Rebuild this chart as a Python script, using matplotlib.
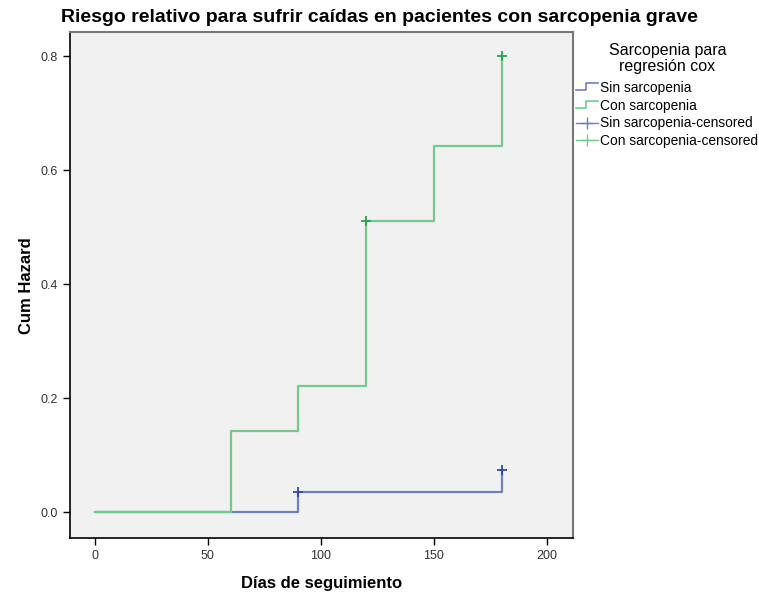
import matplotlib
matplotlib.use("Agg")
import matplotlib.pyplot as plt
from matplotlib.lines import Line2D
from matplotlib.legend_handler import HandlerBase

plt.rcParams["font.family"] = ["Liberation Sans", "DejaVu Sans"]

# cumulative hazard steps
sin_t = [0, 90, 180]
sin_h = [0.0, 0.035, 0.073]
con_t = [0, 60, 90, 120, 150, 180]
con_h = [0.0, 0.143, 0.222, 0.510, 0.643, 0.800]

# censored points
sin_cens_t = [90, 180]
sin_cens_h = [0.035, 0.073]
con_cens_t = [120, 180]
con_cens_h = [0.510, 0.800]

labels = ["Sin sarcopenia", "Con sarcopenia",
          "Sin sarcopenia-censored", "Con sarcopenia-censored"]
xticks = [0, 50, 100, 150, 200]
yticks = [0.0, 0.2, 0.4, 0.6, 0.8]

blue_line = "#6f80c0"
green_line = "#74c98e"
blue_mark = "#2c4aa8"
green_mark = "#22a84a"


class StepHandler(HandlerBase):
    # little step icon like spss legend
    def create_artists(self, legend, orig, xd, yd, w, h, fontsize, trans):
        xs = [xd, xd + w * 0.45, xd + w * 0.45, xd + w]
        ys = [yd + h * 0.15, yd + h * 0.15, yd + h * 0.85, yd + h * 0.85]
        ln = Line2D(xs, ys, color=orig.get_color(), lw=1.2, transform=trans)
        return [ln]


fig = plt.figure(figsize=(7.59, 5.97), dpi=100)
ax = fig.add_axes([0.0922, 0.0988, 0.6628, 0.8472])
ax.set_facecolor("#f0f1f0")

ax.step(sin_t, sin_h, where="post", color=blue_line, lw=1.6)
ax.step(con_t, con_h, where="post", color=green_line, lw=1.6)
ax.plot(sin_cens_t, sin_cens_h, ls="none", marker="+", ms=7, mew=1.3, color=blue_mark)
ax.plot(con_cens_t, con_cens_h, ls="none", marker="+", ms=7, mew=1.3, color=green_mark)

ax.set_xlim(-11, 211.5)
ax.set_ylim(-0.0455, 0.842)
ax.set_xticks(xticks)
ax.set_xticklabels([str(v) for v in xticks])
ax.set_yticks(yticks)
ax.set_yticklabels(["%.1f" % v for v in yticks])
ax.tick_params(direction="out", length=5, width=1, labelsize=9, colors="black",
               labelcolor="#333333")

for side in ["left", "bottom"]:
    ax.spines[side].set_color("black")
    ax.spines[side].set_linewidth(1.2)
for side in ["top", "right"]:
    ax.spines[side].set_color("#777777")
    ax.spines[side].set_linewidth(1.5)

ax.set_xlabel("Días de seguimiento", fontsize=12, fontweight="bold", labelpad=10)
ax.set_ylabel("Cum Hazard", fontsize=12, fontweight="bold", labelpad=5)

fig.suptitle("Riesgo relativo para sufrir caídas en pacientes con sarcopenia grave",
             fontsize=14.0, fontweight="bold", x=0.5, y=0.985)

h1 = Line2D([], [], color=blue_line)
h2 = Line2D([], [], color=green_line)
h3 = Line2D([0], [0], color=blue_line, marker="+", ms=9, mew=1, mec=blue_line, lw=1)
h4 = Line2D([0], [0], color=green_line, marker="+", ms=9, mew=1, mec=green_line, lw=1)

leg = fig.legend([h1, h2, h3, h4], labels, loc="upper left",
                 bbox_to_anchor=(0.752, 0.938), frameon=False, fontsize=9.9,
                 title="Sarcopenia para\nregresión cox", title_fontsize=11.5,
                 handlelength=1.6, handletextpad=0.15, labelspacing=0.28,
                 borderaxespad=0, handler_map={h1: StepHandler(), h2: StepHandler()})
leg.get_title().set_multialignment("center")
leg.get_title().set_linespacing(1.1)
leg._legend_box.sep = 5

fig.savefig("out.png", dpi=100)
